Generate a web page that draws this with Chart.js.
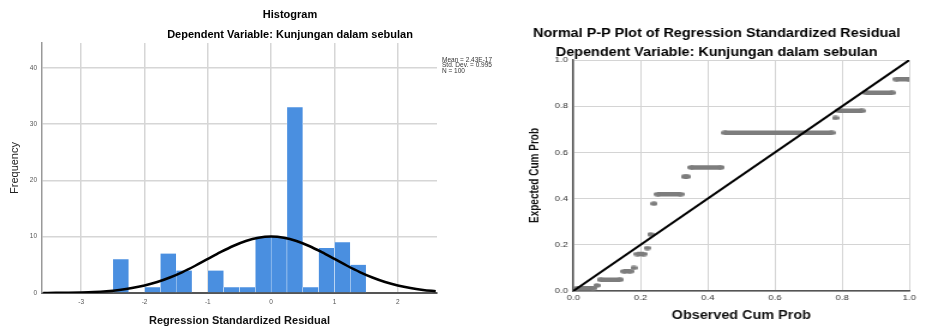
<!DOCTYPE html>
<html>
<head>
<meta charset="utf-8">
<script src="https://cdn.jsdelivr.net/npm/chart.js@4.4.1/dist/chart.umd.min.js"></script>
<style>
  html, body { margin: 0; padding: 0; background: #fff; overflow: hidden; }
  #hist-box { position: absolute; left: 0; top: 0; width: 580px; height: 326px; }
  /* the P-P plot in the source is stretched sideways, so scale it the same way */
  #pp-box { position: absolute; left: 470px; top: 0; width: 410px; height: 326px; transform: scaleX(1.2); transform-origin: 0 0; }
</style>
</head>
<body>
<div id="hist-box"><canvas id="hist-chart" width="580" height="326"></canvas></div>
<div id="pp-box"><canvas id="pp-chart" width="410" height="326"></canvas></div>
<script>
// ---- histogram data ----
const binCenters = [-2.375, -2.125, -1.875, -1.625, -1.375, -1.125, -0.875, -0.625, -0.375, -0.125, 0.125, 0.375, 0.625, 0.875, 1.125, 1.375];
const binCounts  = [6, 0, 1, 7, 4, 0, 4, 1, 1, 10, 10, 33, 1, 8, 9, 5];
const curveX = [-3.6, -3.4, -3.2, -3.0, -2.8, -2.6, -2.4, -2.2, -2.0, -1.8, -1.6, -1.4, -1.2, -1.0, -0.8, -0.6, -0.4, -0.2,
                0, 0.2, 0.4, 0.6, 0.8, 1.0, 1.2, 1.4, 1.6, 1.8, 2.0, 2.2, 2.4, 2.6];
const curveY = [0.01, 0.03, 0.06, 0.11, 0.19, 0.33, 0.55, 0.87, 1.33, 1.95, 2.75, 3.72, 4.84, 6.05, 7.25, 8.35, 9.24, 9.82,
                10.02, 9.82, 9.24, 8.35, 7.25, 6.05, 4.84, 3.72, 2.75, 1.95, 1.33, 0.87, 0.55, 0.33];
const histXTicks = [-3, -2, -1, 0, 1, 2];
const histYTicks = [0, 10, 20, 30, 40];
const statsLines = ['Mean = 2.43E-17', 'Std. Dev. = 0.995', 'N = 100'];

// ---- P-P plot data (runs of tied residuals) ----
const ppRunStart  = [0.01, 0.07, 0.08, 0.15, 0.18, 0.19, 0.22, 0.23, 0.24, 0.25, 0.33, 0.35, 0.45, 0.78, 0.79, 0.87, 0.96];
const ppRunEnd    = [0.06, 0.07, 0.14, 0.17, 0.18, 0.21, 0.22, 0.23, 0.24, 0.32, 0.34, 0.44, 0.77, 0.78, 0.86, 0.95, 1.00];
const ppExpected  = [0.012, 0.024, 0.049, 0.085, 0.10, 0.16, 0.186, 0.245, 0.378, 0.419, 0.495, 0.535, 0.685, 0.749, 0.78, 0.858, 0.917];
const diagX = [0, 1];
const diagY = [0, 1];
const ppTicks = [0, 0.2, 0.4, 0.6, 0.8, 1.0];

const FONT = '"Liberation Sans", Arial, Helvetica, sans-serif';
Chart.defaults.font.family = FONT;

const statsLabel = {
    id: 'statsLabel',
    afterDraw(chart) {
        const ctx = chart.ctx;
        const area = chart.chartArea;
        ctx.save();
        ctx.font = '6.5px ' + FONT;
        ctx.fillStyle = '#333';
        ctx.textBaseline = 'middle';
        statsLines.forEach(function(t, i) {
            ctx.fillText(t, area.right + 5, area.top + 17 + i * 5.5);
        });
        ctx.restore();
    }
};

new Chart(document.getElementById('hist-chart'), {
    type: 'bar',
    data: {
        datasets: [
            {
                type: 'line',
                data: curveX.map((x, i) => ({ x: x, y: curveY[i] })),
                borderColor: '#000',
                borderWidth: 2.5,
                pointRadius: 0,
                cubicInterpolationMode: 'monotone',
                order: 0
            },
            {
                label: 'Frequency',
                data: binCenters.map((x, i) => ({ x: x, y: binCounts[i] })),
                backgroundColor: '#4a8fe0',
                borderColor: '#ffffff',
                borderWidth: { left: 0.5, right: 0.5, top: 0, bottom: 0 },
                borderSkipped: false,
                barPercentage: 1,
                categoryPercentage: 1,
                order: 1
            }
        ]
    },
    options: {
        responsive: false,
        animation: false,
        layout: { padding: 0 },
        plugins: {
            legend: { display: false },
            tooltip: { enabled: false },
            title: {
                display: true, text: 'Histogram', color: '#000',
                font: { size: 11, weight: 'bold' }, padding: { top: 8.4, bottom: 0 }
            },
            subtitle: {
                display: true, text: 'Dependent Variable: Kunjungan dalam sebulan', color: '#000',
                font: { size: 11, weight: 'bold' }, padding: { top: 6.8, bottom: 1.4 }
            }
        },
        scales: {
            x: {
                type: 'linear', min: -3.62, max: 2.62, offset: false,
                afterBuildTicks: s => { s.ticks = histXTicks.map(v => ({ value: v })); },
                afterFit: s => { s.height = 33; },
                grid: { color: '#d6d6d6', lineWidth: 1.5, drawTicks: false, offset: false },
                border: { color: '#555', width: 2 },
                ticks: { font: { size: 6.5 }, color: '#555', padding: 5 },
                title: {
                    display: true, text: 'Regression Standardized Residual', color: '#111',
                    font: { size: 11, weight: 'bold', lineHeight: 1 }, padding: { top: 0, bottom: 0 }
                }
            },
            y: {
                min: 0, max: 44.4,
                afterBuildTicks: s => { s.ticks = histYTicks.map(v => ({ value: v })); },
                afterFit: s => { s.width = 42; },
                grid: { color: '#d6d6d6', lineWidth: 1.5, drawTicks: false },
                border: { color: '#999', width: 1.5 },
                ticks: { font: { size: 6.5 }, color: '#555', padding: 5 },
                title: {
                    display: true, text: 'Frequency', color: '#222',
                    font: { size: 11, lineHeight: 1 }, padding: { top: 9.5, bottom: 0 }
                }
            },
            // empty room on the right where SPSS puts the stats box
            side: {
                position: 'right', axis: 'y', display: true,
                ticks: { display: false }, grid: { display: false, drawTicks: false },
                border: { display: false },
                afterFit: s => { s.width = 143; }
            }
        }
    },
    plugins: [statsLabel]
});

// elliptical marker like the SPSS dots
const dot = document.createElement('canvas');
dot.width = 6; dot.height = 5;
const dc = dot.getContext('2d');
dc.fillStyle = '#7d7d7d';
dc.beginPath();
dc.ellipse(3, 2.5, 3, 2.25, 0, 0, Math.PI * 2);
dc.fill();

const ppData = [];
ppRunStart.forEach(function(start, i) {
    ppData.push({ x: start, y: ppExpected[i] });
    if (ppRunEnd[i] !== start) ppData.push({ x: ppRunEnd[i], y: ppExpected[i] });
    ppData.push({ x: ppRunEnd[i], y: null });
});

new Chart(document.getElementById('pp-chart'), {
    type: 'scatter',
    data: {
        datasets: [
            {
                data: diagX.map((x, i) => ({ x: x, y: diagY[i] })),
                showLine: true,
                borderColor: '#000',
                borderWidth: 2,
                pointRadius: 0,
                order: 0
            },
            {
                data: ppData,
                showLine: true,
                spanGaps: false,
                borderColor: '#7d7d7d',
                borderWidth: 4.5,
                pointStyle: dot,
                pointRadius: 3,
                order: 1
            }
        ]
    },
    options: {
        responsive: false,
        animation: false,
        layout: { padding: { left: 45, right: 43.9, top: 0, bottom: 0 } },
        plugins: {
            legend: { display: false },
            tooltip: { enabled: false },
            title: {
                display: true, text: 'Normal P-P Plot of Regression Standardized Residual', color: '#000',
                font: { size: 12, weight: 'bold' }, padding: { top: 26.3, bottom: 0 }
            },
            subtitle: {
                display: true, text: 'Dependent Variable: Kunjungan dalam sebulan', color: '#000',
                font: { size: 12, weight: 'bold' }, padding: { top: 4.6, bottom: 0.3 }
            }
        },
        scales: {
            x: {
                min: 0, max: 1,
                afterBuildTicks: s => { s.ticks = ppTicks.map(v => ({ value: v })); },
                afterFit: s => { s.height = 35; },
                grid: { color: '#d4d4d4', lineWidth: 1, drawTicks: false },
                border: { color: '#555', width: 1.5 },
                ticks: { font: { size: 8 }, color: '#333', padding: 1.9, callback: v => v.toFixed(1) },
                title: {
                    display: true, text: 'Observed Cum Prob', color: '#111',
                    font: { size: 12, weight: 'bold', lineHeight: 1 }, padding: { top: 0, bottom: 4 }
                }
            },
            y: {
                min: 0, max: 1,
                afterBuildTicks: s => { s.ticks = ppTicks.map(v => ({ value: v })); },
                afterFit: s => { s.width = 41.1; },
                grid: { color: '#d4d4d4', lineWidth: 1, drawTicks: false },
                border: { color: '#555', width: 1.5 },
                ticks: { font: { size: 8 }, color: '#333', padding: 4.5, callback: v => v.toFixed(1) },
                title: {
                    display: true, text: 'Expected Cum Prob', color: '#111',
                    font: { size: 10, weight: 'bold', lineHeight: 1 }, padding: { top: 4.2, bottom: 0 }
                }
            }
        }
    }
});
</script>
</body>
</html>
